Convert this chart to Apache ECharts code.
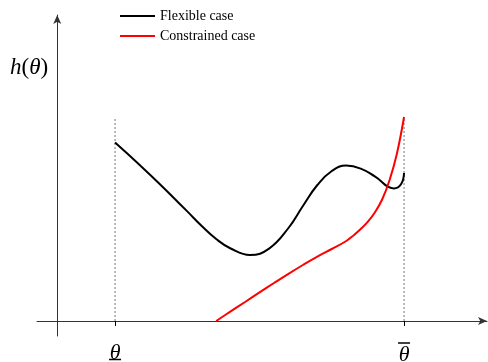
<!DOCTYPE html>
<html>
<head>
<meta charset="utf-8">
<script src="https://cdn.jsdelivr.net/npm/echarts@6/dist/echarts.min.js"></script>
<style>html,body{margin:0;padding:0;background:#fff}#c{width:488px;height:362px}</style>
</head>
<body>
<div id="c"></div>
<script>
// theta bounds (lower, upper)
var thetaBounds = [0.2, 1.2];
var boundTops = [1.01, 1.02];
var tickLabels = ['{sp|}\n{tl|\u03B8}\n{bu|}', '{bo|}\n{t|\u03B8}'];
// Flexible case
var flexTheta = [0.2, 0.25, 0.3, 0.35, 0.4, 0.45, 0.5, 0.55, 0.6, 0.667, 0.733, 0.8, 0.85, 0.9, 0.95, 1.0, 1.05, 1.1, 1.165, 1.19, 1.2];
var flexH     = [0.8925, 0.827, 0.76, 0.691, 0.62, 0.548, 0.475, 0.41, 0.3625, 0.33, 0.362, 0.465, 0.575, 0.68, 0.75, 0.777, 0.762, 0.722, 0.663, 0.685, 0.74];
// Constrained case
var consTheta = [0.55, 0.6, 0.65, 0.7, 0.75, 0.8, 0.85, 0.9, 0.95, 1.0, 1.025, 1.05, 1.075, 1.1, 1.125, 1.15, 1.175, 1.2];
var consH     = [0.0, 0.048, 0.095, 0.143, 0.19, 0.236, 0.28, 0.322, 0.36, 0.40, 0.428, 0.46, 0.497, 0.545, 0.61, 0.705, 0.835, 1.02];
var seriesNames = ['Flexible case', 'Constrained case'];

function pairs(xs, ys) { return xs.map(function (x, i) { return [x, ys[i]]; }); }

var chart = echarts.init(document.getElementById('c'), null, {renderer: 'canvas'});
var serif = '"Liberation Serif", "Times New Roman", serif';
var axisCol = '#333';
var series = [
  {name: seriesNames[0], type: 'line', data: pairs(flexTheta, flexH), smooth: 0.45, showSymbol: false,
   lineStyle: {color: '#000', width: 2}, itemStyle: {color: '#000'}, z: 3},
  {name: seriesNames[1], type: 'line', data: pairs(consTheta, consH), smooth: 0.4, showSymbol: false,
   lineStyle: {color: '#ff0000', width: 2}, itemStyle: {color: '#ff0000'}, z: 4}
];
thetaBounds.forEach(function (t, i) {
  series.push({type: 'line', data: [[t, 0], [t, boundTops[i]]], showSymbol: false, silent: true,
    lineStyle: {color: '#777', width: 1, type: [2, 2]}, z: 1});
});

chart.setOption({
  animation: false,
  backgroundColor: '#fff',
  grid: {left: 37, right: 1, top: 15, bottom: 26, outerBoundsMode: 'none', containLabel: false},
  title: {
    text: '{i|h}({i|\u03B8})', left: 5, top: 51,
    textStyle: {fontFamily: serif, fontSize: 23, fontWeight: 'normal', color: '#000',
      rich: {i: {fontFamily: serif, fontStyle: 'italic', fontSize: 23, color: '#000'}}}
  },
  legend: {
    data: seriesNames, orient: 'vertical', left: 115, top: 4, itemGap: 6,
    itemWidth: 35, itemHeight: 2, icon: 'rect',
    textStyle: {fontFamily: serif, fontSize: 14, color: '#000', lineHeight: 14}
  },
  xAxis: {
    type: 'value', min: -0.07, max: 1.487,
    axisLine: {onZero: true, symbol: ['none', 'arrow'], symbolSize: [6, 9], lineStyle: {color: axisCol, width: 1}},
    axisTick: {show: true, customValues: thetaBounds, length: 5, lineStyle: {color: '#000', width: 1}},
    axisLabel: {show: true, customValues: thetaBounds, margin: 3,
      formatter: function (v) { return Math.abs(v - thetaBounds[0]) < 1e-6 ? tickLabels[0] : tickLabels[1]; },
      rich: {
        t: {fontFamily: serif, fontStyle: 'italic', fontSize: 22, color: '#000', lineHeight: 17},
        tl: {fontFamily: serif, fontStyle: 'italic', fontSize: 22, color: '#000', lineHeight: 10},
        sp: {width: 1, height: 1, lineHeight: 9.5},
        bu: {width: 12, height: 1.5, lineHeight: 2, backgroundColor: '#000'},
        bo: {width: 12, height: 1.5, lineHeight: 8, backgroundColor: '#000'}
      }},
    splitLine: {show: false}
  },
  yAxis: {
    type: 'value', min: -0.075, max: 1.53,
    axisLine: {show: true, onZero: true, symbol: ['none', 'arrow'], symbolSize: [6, 9], lineStyle: {color: axisCol, width: 1}},
    axisTick: {show: false}, axisLabel: {show: false}, splitLine: {show: false}
  },
  series: series
});
</script>
</body>
</html>
